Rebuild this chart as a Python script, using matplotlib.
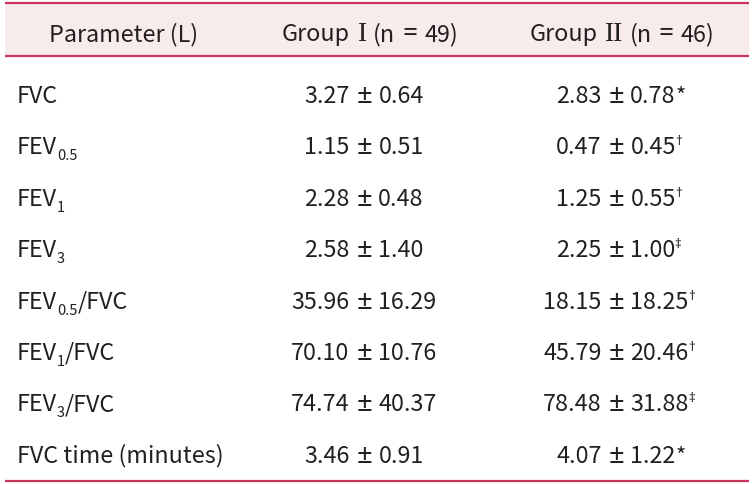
import matplotlib
matplotlib.use("Agg")
import matplotlib.pyplot as plt
from matplotlib.patches import Rectangle

# table content
header_runs = [[("Parameter (L)", 0)],
               [("Group", 0), ("I", 1), ("(n", 0), ("=", 2), ("49)", 0)],
               [("Group", 0), ("II", 1), ("(n", 0), ("=", 2), ("46)", 0)]]
param_main = ["FVC", "FEV", "FEV", "FEV", "FEV", "FEV", "FEV", "FVC time (minutes)"]
param_sub = ["", "0.5", "1", "3", "0.5", "1", "3", ""]
param_tail = ["", "", "", "", "/FVC", "/FVC", "/FVC", ""]
g1_mean = ["3.27", "1.15", "2.28", "2.58", "35.96", "70.10", "74.74", "3.46"]
g1_sd = ["0.64", "0.51", "0.48", "1.40", "16.29", "10.76", "40.37", "0.91"]
g2_mean = ["2.83", "0.47", "1.25", "2.25", "18.15", "45.79", "78.48", "4.07"]
g2_sd = ["0.78", "0.45", "0.55", "1.00", "18.25", "20.46", "31.88", "1.22"]
g2_mark = ["*", "\u2020", "\u2020", "\u2021", "\u2020", "\u2020", "\u2021", "*"]

W, H = 752, 485
fig = plt.figure(figsize=(W / 100, H / 100), dpi=100)
ax = fig.add_axes([0, 0, 1, 1])
ax.set_xlim(0, W)
ax.set_ylim(H, 0)
ax.axis('off')
renderer = fig.canvas.get_renderer()

line_c = '#c8365e'
head_bg = '#f7ebeb'
txt_c = '#231f20'
fs = 16.8
fams = [['Noto Sans CJK KR'], ['Liberation Serif'], ['Noto Sans']]
gap = 7


def draw_runs(x, y, runs, ha='left'):
    # runs: (text, family index, size, dy in px, gap after in px)
    arts, widths = [], []
    for s, fi, size, dy, g in runs:
        t = ax.text(0, y + dy, s, fontsize=size, family=fams[fi], color=txt_c,
                    ha='left', va='baseline')
        w = t.get_window_extent(renderer).width
        arts.append(t)
        widths.append(w + g)
    total = sum(widths) - runs[-1][4]
    cur = x - total / 2 if ha == 'center' else x
    for t, w in zip(arts, widths):
        t.set_x(cur)
        cur += w
    return cur - runs[-1][4]


def pm_runs(a, b):
    return [(a, 0, fs, 0, gap), ("\u00b1", 2, fs + 3, 0, gap - 1), (b, 0, fs, 0, 0)]


x0, x1 = 5, 749
ax.add_patch(Rectangle((x0, 4), x1 - x0, 53, facecolor=head_bg, edgecolor='none'))
for yy in (4, 57, 482):
    ax.plot([x0, x1], [yy, yy], color=line_c, lw=1.6, solid_capstyle='butt')

col_x = [124, 370, 622]
for cx, h in zip(col_x, header_runs):
    runs = []
    for s, fi in h:
        size = fs + 3 if fi == 1 else (fs + 2 if s == "=" else fs)
        runs.append((s, fi, size, 0, gap))
    draw_runs(cx, 41, runs, ha='center')

for i in range(len(param_main)):
    yb = 103 + 51.4 * i
    runs = [(param_main[i], 0, fs, 0, 0)]
    if param_sub[i]:
        runs.append((param_sub[i], 0, 10.5, 6, 0))
    if param_tail[i]:
        runs.append((param_tail[i], 0, fs, 0, 0))
    draw_runs(17, yb, runs)

    draw_runs(364, yb, pm_runs(g1_mean[i], g1_sd[i]), ha='center')
    xr = draw_runs(616, yb, pm_runs(g2_mean[i], g2_sd[i]), ha='center')
    if g2_mark[i] == "*":
        ax.text(xr, yb, "*", ha='left', va='baseline', fontsize=fs - 1,
                family=fams[0], color=txt_c)
    else:
        ax.text(xr - 1, yb - 9, g2_mark[i], ha='left', va='baseline', fontsize=9.5,
                family=fams[2], color=txt_c)

fig.savefig("out.png", dpi=100)
